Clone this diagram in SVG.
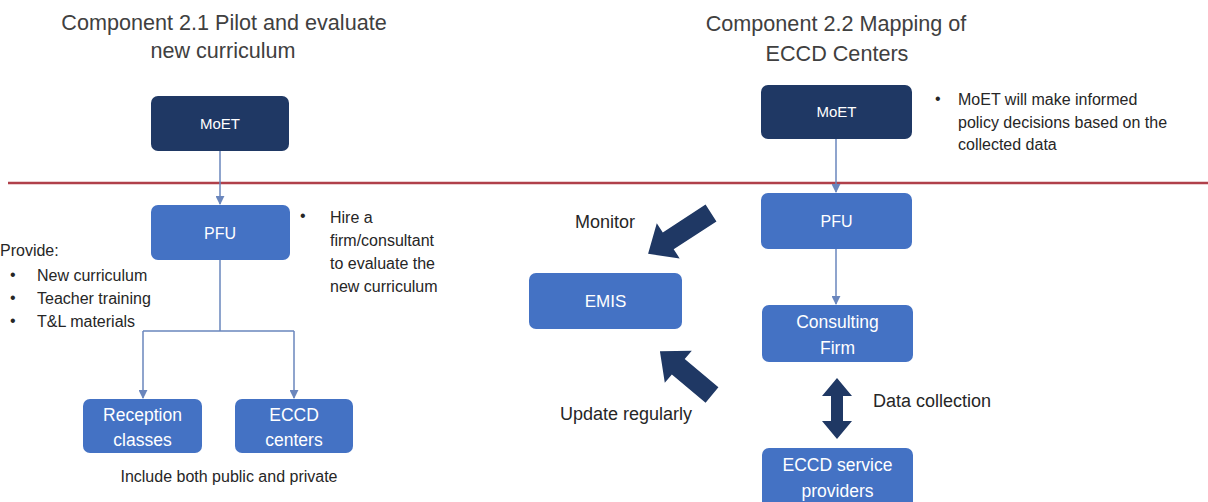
<svg xmlns="http://www.w3.org/2000/svg" width="1208" height="502" viewBox="0 0 1208 502">
<style>
.title{font-family:"Liberation Sans",Arial,sans-serif;font-size:21.6px;fill:#404040;text-anchor:middle}
.dark{fill:#1f3864}
.blue{fill:#4472c4}
.nt{font-family:"Liberation Sans",Arial,sans-serif;fill:#ffffff;text-anchor:middle}
.side{font-family:"Liberation Sans",Arial,sans-serif;font-size:16px;fill:#262626}
.lbl{font-family:"Liberation Sans",Arial,sans-serif;font-size:18px;fill:#262626}
.conn{stroke:#6a86bd;stroke-width:1.5;fill:none}
.blk{fill:#1f3864}
</style>
<defs>
<marker id="ah" viewBox="0 0 10 10" refX="9" refY="5" markerWidth="6" markerHeight="6" orient="auto">
<path d="M0,0 L10,5 L0,10 z" fill="#6a86bd"/>
</marker>
</defs>
<rect width="1208" height="502" fill="#ffffff"/>

<text class="title" x="224" y="30">Component 2.1 Pilot and evaluate</text>
<text class="title" x="223" y="58">new curriculum</text>
<text class="title" x="836" y="31">Component 2.2 Mapping of</text>
<text class="title" x="837" y="61">ECCD Centers</text>

<line x1="8" y1="183" x2="1208" y2="183" stroke="#b0404a" stroke-width="2.5"/>

<g id="connectors">
<path class="conn" d="M220,151 V204" marker-end="url(#ah)"/>
<path class="conn" d="M220,260 V331 M143,331 H294" />
<path class="conn" d="M143,331 V398" marker-end="url(#ah)"/>
<path class="conn" d="M294,331 V398" marker-end="url(#ah)"/>
<path class="conn" d="M836,139 V192" marker-end="url(#ah)"/>
<path class="conn" d="M836,249 V304" marker-end="url(#ah)"/>
<polygon class="blk" points="0,-10 51,-10 51,-21 75,0 51,21 51,10 0,10" transform="translate(711,213) rotate(147)"/>
<polygon class="blk" points="0,-10 44,-10 44,-21 68,0 44,21 44,10 0,10" transform="translate(712,395) rotate(220)"/>
<polygon class="blk" points="837,378 852,396 843,396 843,421 852,421 837,439 822,421 831,421 831,396 822,396"/>
</g>

<g id="moet-left">
<rect class="dark" x="151" y="96" width="138" height="55" rx="7"/>
<text class="nt" x="220" y="129" font-size="15">MoET</text>
</g>
<g id="pfu-left">
<rect class="blue" x="151" y="205" width="139" height="55" rx="7"/>
<text class="nt" x="220" y="239" font-size="16">PFU</text>
</g>
<g id="reception">
<rect class="blue" x="83" y="399" width="119" height="54" rx="7"/>
<text class="nt" x="142.5" y="421" font-size="17.5">Reception</text>
<text class="nt" x="142.5" y="446" font-size="17.5">classes</text>
</g>
<g id="eccd-centers">
<rect class="blue" x="235" y="399" width="118" height="54" rx="7"/>
<text class="nt" x="294" y="421" font-size="17.5">ECCD</text>
<text class="nt" x="294" y="446" font-size="17.5">centers</text>
</g>

<g id="provide-note">
<text class="side" x="0" y="256">Provide:</text>
<text class="side" x="10" y="280" font-size="10">•</text>
<text class="side" x="37" y="281">New curriculum</text>
<text class="side" x="10" y="303" font-size="10">•</text>
<text class="side" x="37" y="304">Teacher training</text>
<text class="side" x="10" y="326" font-size="10">•</text>
<text class="side" x="37" y="327">T&amp;L materials</text>
</g>
<g id="hire-note">
<text class="side" x="300" y="221" font-size="12">•</text>
<text class="side" x="330" y="223">Hire a</text>
<text class="side" x="330" y="246">firm/consultant</text>
<text class="side" x="330" y="269">to evaluate the</text>
<text class="side" x="330" y="292">new curriculum</text>
</g>
<text class="side" x="229" y="482" text-anchor="middle">Include both public and private</text>

<g id="moet-right">
<rect class="dark" x="761" y="85" width="151" height="54" rx="7"/>
<text class="nt" x="836.5" y="117" font-size="15">MoET</text>
</g>
<g id="policy-note">
<text class="side" x="935" y="104" font-size="12">•</text>
<text class="side" x="958" y="105" font-size="15">MoET will make informed</text>
<text class="side" x="958" y="128" font-size="15">policy decisions based on the</text>
<text class="side" x="958" y="150" font-size="15">collected data</text>
</g>
<g id="pfu-right">
<rect class="blue" x="761" y="193" width="151" height="56" rx="7"/>
<text class="nt" x="836.5" y="227" font-size="16">PFU</text>
</g>
<g id="consulting">
<rect class="blue" x="762" y="305" width="151" height="57" rx="7"/>
<text class="nt" x="837.5" y="328" font-size="17.5">Consulting</text>
<text class="nt" x="837.5" y="354" font-size="17.5">Firm</text>
</g>
<g id="eccd-providers">
<rect class="blue" x="762" y="448" width="151" height="60" rx="7"/>
<text class="nt" x="837.5" y="471" font-size="17.5">ECCD service</text>
<text class="nt" x="837.5" y="497" font-size="17.5">providers</text>
</g>
<g id="emis">
<rect class="blue" x="529" y="273" width="153" height="56" rx="7"/>
<text class="nt" x="605.5" y="307" font-size="17">EMIS</text>
</g>

<text class="lbl" x="575" y="228">Monitor</text>
<text class="lbl" x="560" y="420">Update regularly</text>
<text class="lbl" x="873" y="407">Data collection</text>
</svg>
